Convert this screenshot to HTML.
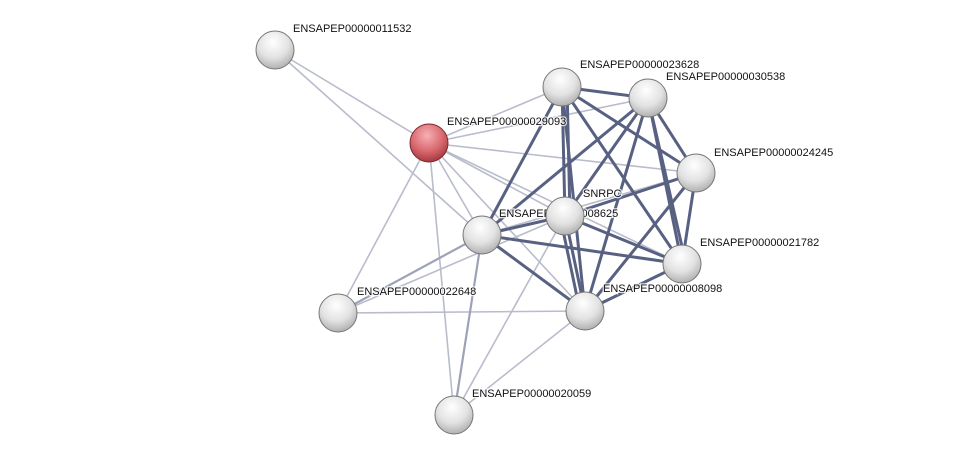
<!DOCTYPE html>
<html><head><meta charset="utf-8"><style>
html,body{margin:0;padding:0;background:#fff;}
svg{display:block;}
text{font-family:"Liberation Sans",sans-serif;font-size:11px;fill:#111;stroke:#fff;stroke-width:2.5px;paint-order:stroke;stroke-opacity:0.8;}
</style></head><body>
<svg width="975" height="461" viewBox="0 0 975 461" xmlns="http://www.w3.org/2000/svg">
<defs>
<radialGradient id="g" cx="0.45" cy="0.3" r="0.75">
<stop offset="0" stop-color="#ffffff"/><stop offset="0.55" stop-color="#e2e2e2"/><stop offset="1" stop-color="#a8a8a8"/>
</radialGradient>
<radialGradient id="r" cx="0.45" cy="0.3" r="0.75">
<stop offset="0" stop-color="#f6b0b4"/><stop offset="0.55" stop-color="#d96a70"/><stop offset="1" stop-color="#9e3038"/>
</radialGradient>
</defs>
<g stroke="#b9bccb" stroke-width="1.6" fill="none">
<line x1="275" y1="50" x2="429" y2="143"/>
<line x1="275" y1="50" x2="482" y2="235"/>
<line x1="429" y1="143" x2="562" y2="87"/>
<line x1="429" y1="143" x2="648" y2="98"/>
<line x1="429" y1="143" x2="696" y2="173"/>
<line x1="429" y1="143" x2="565" y2="216"/>
<line x1="429" y1="143" x2="482" y2="235"/>
<line x1="429" y1="143" x2="338" y2="313"/>
<line x1="429" y1="143" x2="454" y2="415"/>
<line x1="429" y1="143" x2="585" y2="311"/>
<line x1="429" y1="143" x2="682" y2="264"/>
<line x1="338" y1="313" x2="565" y2="216"/>
<line x1="338" y1="313" x2="585" y2="311"/>
<line x1="454" y1="415" x2="565" y2="216"/>
<line x1="454" y1="415" x2="585" y2="311"/>
<line x1="482" y1="235" x2="696" y2="173"/>
<line x1="482" y1="235" x2="585" y2="311"/>
</g>
<g stroke="#9da2b8" stroke-width="2.2">
<line x1="338" y1="313" x2="482" y2="235"/>
<line x1="454" y1="415" x2="482" y2="235"/>
</g>
<g stroke="#596183" stroke-width="3" fill="none">
<line x1="562" y1="87" x2="648" y2="98"/>
<line x1="562" y1="87" x2="696" y2="173"/>
<line x1="562" y1="87" x2="565" y2="216"/>
<line x1="567" y1="87" x2="570" y2="216"/>
<line x1="562" y1="87" x2="482" y2="235"/>
<line x1="562" y1="87" x2="585" y2="311"/>
<line x1="562" y1="87" x2="682" y2="264"/>
<line x1="648" y1="98" x2="696" y2="173"/>
<line x1="648" y1="98" x2="565" y2="216"/>
<line x1="648" y1="98" x2="482" y2="235"/>
<line x1="648" y1="98" x2="585" y2="311"/>
<line x1="648" y1="98" x2="682" y2="264"/>
<line x1="648" y1="98" x2="686" y2="264"/>
<line x1="696" y1="173" x2="565" y2="216"/>
<line x1="696" y1="173" x2="585" y2="311"/>
<line x1="696" y1="173" x2="682" y2="264"/>
<line x1="565" y1="216" x2="482" y2="235"/>
<line x1="565" y1="216" x2="682" y2="264"/>
<line x1="565" y1="216" x2="585" y2="311"/>
<line x1="560" y1="216" x2="580" y2="311"/>
<line x1="482" y1="235" x2="682" y2="264"/>
<line x1="482" y1="235" x2="585" y2="311"/>
<line x1="682" y1="264" x2="585" y2="311"/>
</g>
<g stroke="#777" stroke-width="1">
<circle cx="275" cy="50" r="19" fill="url(#g)"/>
<circle cx="429" cy="143" r="19" fill="url(#r)" stroke="#7a2a30"/>
<circle cx="562" cy="87" r="19" fill="url(#g)"/>
<circle cx="648" cy="98" r="19" fill="url(#g)"/>
<circle cx="696" cy="173" r="19" fill="url(#g)"/>
<circle cx="482" cy="235" r="19" fill="url(#g)"/>
</g>
<text x="499" y="217">ENSAPEP00000008625</text>
<g stroke="#777" stroke-width="1">
<circle cx="565" cy="216" r="19" fill="url(#g)"/>
<circle cx="682" cy="264" r="19" fill="url(#g)"/>
<circle cx="585" cy="311" r="19" fill="url(#g)"/>
<circle cx="338" cy="313" r="19" fill="url(#g)"/>
<circle cx="454" cy="415" r="19" fill="url(#g)"/>
</g>
<text x="293" y="32">ENSAPEP00000011532</text>
<text x="447" y="125">ENSAPEP00000029093</text>
<text x="580" y="68">ENSAPEP00000023628</text>
<text x="666" y="80">ENSAPEP00000030538</text>
<text x="714" y="156">ENSAPEP00000024245</text>
<text x="583" y="197">SNRPC</text>
<text x="700" y="246">ENSAPEP00000021782</text>
<text x="603" y="292">ENSAPEP00000008098</text>
<text x="357" y="295">ENSAPEP00000022648</text>
<text x="472" y="397">ENSAPEP00000020059</text>
</svg>
</body></html>
